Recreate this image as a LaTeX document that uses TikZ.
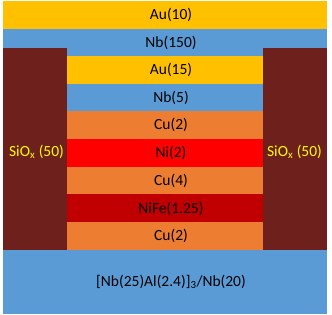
\documentclass[tikz,border=0pt]{standalone}
\usepackage{fontspec}
\setmainfont{Carlito}
\definecolor{au}{HTML}{FFC000}
\definecolor{nb}{HTML}{5B9BD5}
\definecolor{cu}{HTML}{ED7D31}
\definecolor{ni}{HTML}{FF0000}
\definecolor{nife}{HTML}{C00000}
\definecolor{siox}{HTML}{6E201C}
\definecolor{sioxtext}{HTML}{FFFF00}
\begin{document}
\begin{tikzpicture}[x=1pt,y=-1pt,
  lbl/.style={font=\fontsize{15.5}{18}\selectfont, text=black, inner sep=0pt},
  slbl/.style={font=\fontsize{15.5}{18}\selectfont, text=sioxtext, inner sep=0pt}]
\useasboundingbox (0,0) rectangle (332,314);
\fill[white] (0,0) rectangle (332,314);
% full-width layers
\fill[au] (3.3,1) rectangle (327,28.5);
\fill[nb] (3.3,28.5) rectangle (327,56);
\fill[nb] (3.3,250) rectangle (327,314);
% inner stack
\fill[au] (67,56) rectangle (263.3,83.5);
\fill[nb] (67,83.5) rectangle (263.3,111);
\fill[cu] (67,111) rectangle (263.3,138.8);
\fill[ni] (67,138.8) rectangle (263.3,166.6);
\fill[cu] (67,166.6) rectangle (263.3,194.4);
\fill[nife] (67,194.4) rectangle (263.3,222.2);
\fill[cu] (67,222.2) rectangle (263.3,250);
% SiOx blocks
\fill[siox] (3.3,48.3) rectangle (67,250);
\fill[siox] (263.3,48.3) rectangle (327,250);
% labels
\node[lbl] (au10) at (171,15) {Au(10)};
\node[lbl] (nb150) at (171,42.5) {Nb(150)};
\node[lbl] (au15) at (171,70) {Au(15)};
\node[lbl] (nb5) at (171,97.5) {Nb(5)};
\node[lbl] (cu2a) at (171,125) {Cu(2)};
\node[lbl] (ni2) at (171,153) {Ni(2)};
\node[lbl] (cu4) at (171,180.5) {Cu(4)};
\node[lbl] (nife) at (171,208.5) {NiFe(1.25)};
\node[lbl] (cu2b) at (171,236) {Cu(2)};
\node[lbl] (base) at (171,282) {[Nb(25)Al(2.4)]\textsubscript{3}/Nb(20)};
\node[slbl] (sioxl) at (36.5,152) {SiO\textsubscript{x} (50)};
\node[slbl] (sioxr) at (294.5,152) {SiO\textsubscript{x} (50)};
\end{tikzpicture}
\end{document}
